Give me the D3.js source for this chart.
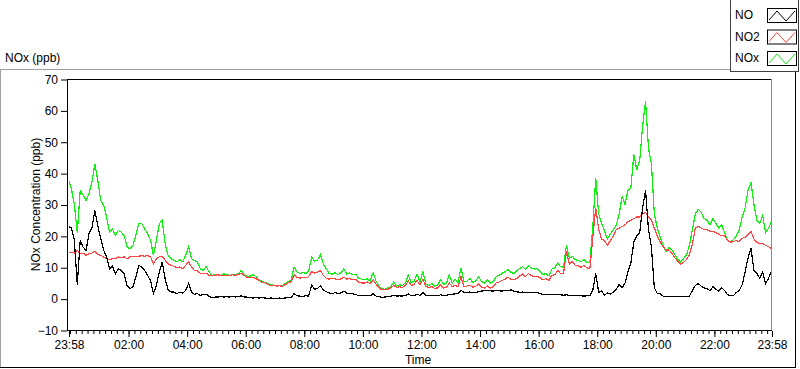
<!DOCTYPE html>
<html>
<head>
<meta charset="utf-8">
<script src="https://cdn.jsdelivr.net/npm/d3@7"></script>
<style>
body { margin: 0; background: #fff; }
svg { display: block; font-family: "Liberation Sans", Arial, sans-serif; }
.axis text { font-size: 12px; fill: #000; }
.axis line { stroke: #000; }
.axis path { display: none; }
</style>
</head>
<body>
<svg width="800" height="369"></svg>
<script>
// readings every 6 minutes, starting 23:58
var stepMinutes = 6;

var noData = [
  23, 22.6, 18.6, 4.5, 18.6, 16.4, 15.4, 20.7, 22.6, 28.1,
  23.3, 19.1, 15.4, 13.3, 9.5, 10.3, 7.9, 9.5, 9.0, 7.9,
  4.2, 3.2, 3.7, 6.9, 10.6, 10.1, 9.0, 7.4, 5.8, 1.6,
  4.2, 8.5, 11.7, 6.3, 2.8, 2.1, 2.1, 1.6, 2.1, 1.8,
  2.6, 4.8, 2.1, 1.4, 1.6, 1.0, 1.4, 1.4, 0.7, 0.3,
  0.5, 0.5, 0.7, 0.5, 0.6, 0.5, 0.7, 0.5, 0.7, 0.9,
  0.5, 0.5, 0.3, 0.2, 0.4, 0.2, 0.3, 0.2, 0.1, 0.2,
  0.1, 0.0, 0.2, 0.1, 0.2, 0.3, 0.4, 1.6, 0.9, 0.8,
  0.7, 0.9, 0.8, 4.4, 3.0, 3.2, 4.2, 2.8, 2.2, 1.8,
  1.6, 1.9, 1.7, 1.8, 2.4, 1.8, 1.6, 1.5, 1.3, 1.0,
  1.0, 1.0, 1.1, 0.9, 1.6, 0.8, 0.6, 0.4, 0.5, 0.6,
  0.8, 1.0, 0.8, 0.9, 0.8, 1.0, 1.5, 0.9, 1.0, 1.4,
  1.0, 2.0, 1.0, 0.9, 1.0, 1.0, 0.9, 1.2, 1.0, 1.0,
  1.4, 1.4, 1.5, 1.6, 2.7, 1.9, 2.0, 2.1, 1.9, 2.0,
  2.2, 2.4, 2.5, 2.6, 2.5, 2.4, 2.6, 2.5, 2.4, 2.6,
  2.5, 2.8, 2.4, 2.2, 2.0, 2.1, 1.9, 2.0, 2.0, 1.9,
  2.0, 1.6, 1.4, 1.3, 1.2, 1.3, 1.2, 1.3, 1.2, 1.1,
  1.2, 1.0, 1.0, 0.9, 1.0, 0.9, 0.8, 0.9, 1.0, 2.7,
  8.0, 2.0, 2.4, 1.2, 1.8, 1.5, 2.0, 3.0, 4.5, 3.5,
  5.0, 8.5, 11.5, 18.0, 20.0, 21.0, 29.0, 34.5, 22.0, 16.5,
  3.5, 1.6, 1.5, 0.8, 0.7, 0.8, 0.7, 0.8, 0.7, 0.6,
  0.7, 0.8, 0.8, 2.6, 4.2, 4.8, 4.0, 3.4, 3.2, 2.5,
  3.8, 3.0, 2.4, 3.4, 2.6, 1.2, 1.0, 0.9, 2.0, 2.6,
  4.5, 8.5, 13.0, 16.0, 9.0, 8.0, 6.5, 8.5, 4.8, 6.5, 8.8
];

var no2Data = [
  14.8, 14.8, 14.5, 15.4, 14.3, 14.5, 13.8, 14.3, 14.5, 15.1,
  14.1, 13.8, 13.3, 12.7, 12.4, 12.7, 12.7, 13.3, 13.0, 13.3,
  12.7, 13.3, 13.5, 13.3, 13.5, 13.7, 13.5, 13.7, 13.3, 11.1,
  12.7, 13.3, 13.5, 12.2, 11.1, 10.6, 10.3, 9.8, 10.1, 9.5,
  10.6, 11.7, 10.1, 9.0, 8.8, 8.1, 7.9, 8.1, 7.4, 7.4,
  7.4, 7.6, 7.4, 7.5, 7.4, 7.4, 7.6, 7.4, 7.7, 8.1,
  7.4, 6.7, 6.6, 6.8, 6.4, 5.8, 5.3, 5.0, 4.6, 4.2,
  4.2, 4.0, 4.1, 3.9, 4.5, 5.0, 5.4, 7.6, 6.8, 6.5,
  6.8, 6.6, 7.0, 8.6, 8.2, 8.5, 9.0, 7.4, 6.5, 6.2,
  6.4, 6.3, 6.0, 6.3, 6.8, 6.2, 6.4, 6.0, 6.2, 5.2,
  5.0, 5.0, 5.3, 4.8, 6.0, 4.6, 3.4, 2.8, 2.8, 3.0,
  3.4, 4.2, 3.6, 3.8, 3.6, 4.2, 5.6, 4.2, 4.6, 5.8,
  4.4, 6.2, 3.8, 3.6, 3.8, 3.3, 3.4, 4.4, 3.4, 3.6,
  5.0, 3.8, 4.3, 3.8, 7.0, 3.8, 4.0, 4.3, 3.6, 3.9,
  4.6, 3.6, 3.4, 4.0, 3.3, 3.8, 5.0, 5.3, 5.8, 6.2,
  6.8, 6.2, 6.0, 6.4, 7.2, 7.8, 7.0, 8.0, 7.4, 7.0,
  7.2, 6.6, 6.0, 6.4, 5.8, 7.4, 7.6, 9.0, 8.0, 8.0,
  15.0, 11.0, 11.8, 10.6, 10.4, 10.0, 10.6, 9.8, 9.6, 19.5,
  29.0, 22.0, 19.0, 18.5, 17.0, 18.5, 20.0, 22.0, 22.5, 23.0,
  23.5, 24.5, 25.0, 25.5, 26.0, 26.0, 27.0, 27.5, 26.0, 25.0,
  22.5, 20.0, 18.0, 16.5, 15.5, 15.5, 14.5, 13.0, 12.0, 11.0,
  11.5, 12.5, 14.0, 17.5, 22.5, 23.0, 22.5, 22.0, 22.0, 21.5,
  21.5, 21.0, 20.5, 20.0, 20.0, 18.5, 18.0, 18.2, 18.5, 18.2,
  19.2, 19.6, 20.4, 21.5, 19.0, 18.0, 17.5, 17.5, 17.0, 16.5, 16.0
];

var noxData = [
  37.7, 35, 30, 21, 34.5, 33, 31.3, 33.4, 37.1, 43,
  37.7, 31.3, 29.7, 26, 21.2, 22.3, 20.1, 21.7, 21.2, 20.1,
  16.4, 15.9, 17, 20.1, 23.9, 23.9, 22.3, 20.7, 18.6, 13.8,
  18.6, 23.9, 24.9, 17.5, 13.8, 12.7, 12.2, 11.7, 12.4, 11.7,
  13.8, 16.6, 12.7, 12.2, 11.7, 9.5, 9.0, 10.3, 8.5, 7.4,
  7.6, 7.7, 7.4, 7.9, 7.7, 7.4, 7.6, 7.6, 7.9, 9.0,
  7.6, 7.1, 7.2, 7.6, 7.0, 6.0, 5.6, 5.2, 4.8, 4.4,
  4.3, 4.1, 4.3, 4.0, 4.8, 5.4, 5.8, 10.0, 8.5, 8.0,
  8.3, 8.0, 8.8, 13.2, 12.0, 12.3, 14.0, 11.0, 9.5, 8.0,
  7.8, 8.3, 7.6, 8.2, 9.5, 7.8, 8.2, 7.6, 7.8, 6.6,
  6.2, 6.0, 6.3, 5.6, 8.3, 5.6, 3.8, 3.2, 3.0, 3.4,
  3.8, 5.3, 4.0, 4.4, 4.2, 5.0, 7.5, 5.0, 5.6, 7.8,
  5.4, 8.6, 4.6, 4.2, 4.8, 4.0, 4.2, 6.0, 4.6, 4.8,
  7.5, 5.0, 6.2, 5.2, 9.8, 5.4, 5.6, 6.4, 5.2, 5.6,
  7.0, 5.4, 5.0, 6.0, 4.9, 5.4, 7.0, 7.4, 8.0, 8.6,
  9.2, 8.4, 8.0, 8.8, 9.6, 10.2, 9.4, 10.5, 9.8, 9.4,
  9.6, 8.6, 7.6, 8.0, 7.2, 9.4, 9.8, 11.4, 10.2, 10.0,
  17.0, 12.8, 13.5, 12.4, 12.2, 11.8, 12.5, 11.6, 11.5, 23.0,
  38.5, 27.0, 24.0, 21.5, 19.0, 20.6, 22.0, 23.5, 27.0, 32.5,
  30.0, 34.5, 35.5, 46.0, 41.0, 44.0, 55.0, 63.0, 48.0, 43.0,
  27.0, 22.5, 19.5, 17.0, 15.0, 16.2, 15.5, 14.0, 12.5, 11.5,
  12.8, 14.0, 17.0, 22.0, 27.0, 28.5, 27.5, 25.5, 25.0, 23.5,
  25.5, 24.0, 22.5, 23.5, 21.0, 18.5, 18.0, 18.8, 20.0, 22.0,
  26.0, 29.0, 34.5, 37.0, 30.0, 25.0, 24.0, 26.5, 21.0, 22.5, 24.5
];

// minutes after 23:58
var majorTickMinutes = [0, 122, 242, 362, 482, 602, 722, 842, 962, 1082, 1202, 1322, 1440];
var majorTickLabels = ["23:58", "02:00", "04:00", "06:00", "08:00", "10:00", "12:00",
                       "14:00", "16:00", "18:00", "20:00", "22:00", "23:58"];
var yTicks = [-10, 0, 10, 20, 30, 40, 50, 60, 70];

var seriesNames = ["NO", "NO2", "NOx"];
var seriesColors = ["#000000", "#ff4444", "#10f010"];
var seriesData = [noData, no2Data, noxData];

var svg = d3.select("svg");

var plotLeft = 68, plotRight = 772, plotTop = 79, plotBottom = 330;

var x = d3.scaleLinear().domain([0, 1440]).range([plotLeft + 0.5, plotRight - 0.5]);
var y = d3.scaleLinear().domain([-10, 70]).range([plotBottom, plotTop]);

// outer panel edges
svg.append("line").attr("x1", 0).attr("x2", 730).attr("y1", 69.5).attr("y2", 69.5)
  .attr("stroke", "#a0a0a0");
svg.append("line").attr("x1", 0.5).attr("x2", 0.5).attr("y1", 69).attr("y2", 368)
  .attr("stroke", "#a0a0a0");
svg.append("line").attr("x1", 0).attr("x2", 796).attr("y1", 367.5).attr("y2", 367.5)
  .attr("stroke", "#000");
svg.append("line").attr("x1", 795.5).attr("x2", 795.5).attr("y1", 72).attr("y2", 368)
  .attr("stroke", "#000");

svg.append("text")
  .attr("x", 5)
  .attr("y", 62)
  .style("font-size", "12px")
  .text("NOx (ppb)");

// plot area
svg.append("rect")
  .attr("x", plotLeft).attr("y", plotTop)
  .attr("width", plotRight - plotLeft).attr("height", plotBottom - plotTop)
  .attr("fill", "#fff");

svg.append("clipPath").attr("id", "plot-clip")
  .append("rect")
  .attr("x", plotLeft + 1).attr("y", plotTop)
  .attr("width", plotRight - plotLeft - 1).attr("height", plotBottom - plotTop);

var line = d3.line()
  .x(function(d, i) { return x(i * stepMinutes); })
  .y(function(d) { return y(d); });

var plots = svg.append("g").attr("clip-path", "url(#plot-clip)");

// NOx under NO2 under NO
[2, 1, 0].forEach(function(k) {
  plots.append("path")
    .datum(seriesData[k])
    .attr("fill", "none")
    .attr("stroke", seriesColors[k])
    .attr("stroke-width", 1.2)
    .attr("shape-rendering", "crispEdges")
    .attr("d", line);
});

// frame
svg.append("line").attr("x1", plotLeft).attr("x2", plotRight).attr("y1", plotTop + 0.5).attr("y2", plotTop + 0.5)
  .attr("stroke", "#000");
svg.append("line").attr("x1", plotRight - 0.5).attr("x2", plotRight - 0.5).attr("y1", plotTop).attr("y2", plotBottom)
  .attr("stroke", "#8a8a8a");
svg.append("line").attr("x1", plotLeft - 0.5).attr("x2", plotLeft - 0.5).attr("y1", plotTop).attr("y2", plotBottom + 1)
  .attr("stroke", "#000");
svg.append("line").attr("x1", plotLeft - 1).attr("x2", plotRight).attr("y1", plotBottom + 0.5).attr("y2", plotBottom + 0.5)
  .attr("stroke", "#000");

// y axis
svg.append("g")
  .attr("class", "axis")
  .attr("transform", "translate(" + (plotLeft - 1) + ",0.5)")
  .call(d3.axisLeft(y).tickValues(yTicks).tickSize(6).tickPadding(3));

// x axis minor ticks every 12 minutes from 00:00
svg.append("g")
  .attr("class", "axis")
  .attr("transform", "translate(0.5," + (plotBottom + 1) + ")")
  .call(d3.axisBottom(x).tickValues(d3.range(2, 1440, 12)).tickSize(3).tickFormat(""));

svg.append("g")
  .attr("class", "axis")
  .attr("transform", "translate(0.5," + (plotBottom + 1) + ")")
  .call(d3.axisBottom(x)
    .tickValues(majorTickMinutes)
    .tickSize(6)
    .tickPadding(3)
    .tickFormat(function(d, i) { return majorTickLabels[i]; }));

svg.append("text")
  .attr("x", 418)
  .attr("y", 364)
  .attr("text-anchor", "middle")
  .style("font-size", "12px")
  .text("Time");

svg.append("text")
  .attr("transform", "translate(40," + ((plotTop + plotBottom) / 2) + ") rotate(-90)")
  .attr("text-anchor", "middle")
  .style("font-size", "12px")
  .text("NOx Concentration (ppb)");

// legend
var legend = svg.append("g");
legend.append("rect")
  .attr("x", 730.5).attr("y", -1)
  .attr("width", 68).attr("height", 72.5)
  .attr("fill", "#fff")
  .attr("stroke", "#404040");

var zig = d3.line();
seriesNames.forEach(function(name, i) {
  var g = legend.append("g").attr("transform", "translate(0," + (i * 21.5) + ")");
  g.append("text")
    .attr("x", 735)
    .attr("y", 19)
    .style("font-size", "12px")
    .text(name);
  g.append("rect")
    .attr("x", 767.5).attr("y", 8.5)
    .attr("width", 29).attr("height", 14)
    .attr("fill", "#fff")
    .attr("stroke", "#000");
  g.append("path")
    .attr("d", zig([[769, 20], [777, 11], [786, 21], [795, 11]]))
    .attr("fill", "none")
    .attr("stroke", seriesColors[i]);
});
</script>
</body>
</html>
